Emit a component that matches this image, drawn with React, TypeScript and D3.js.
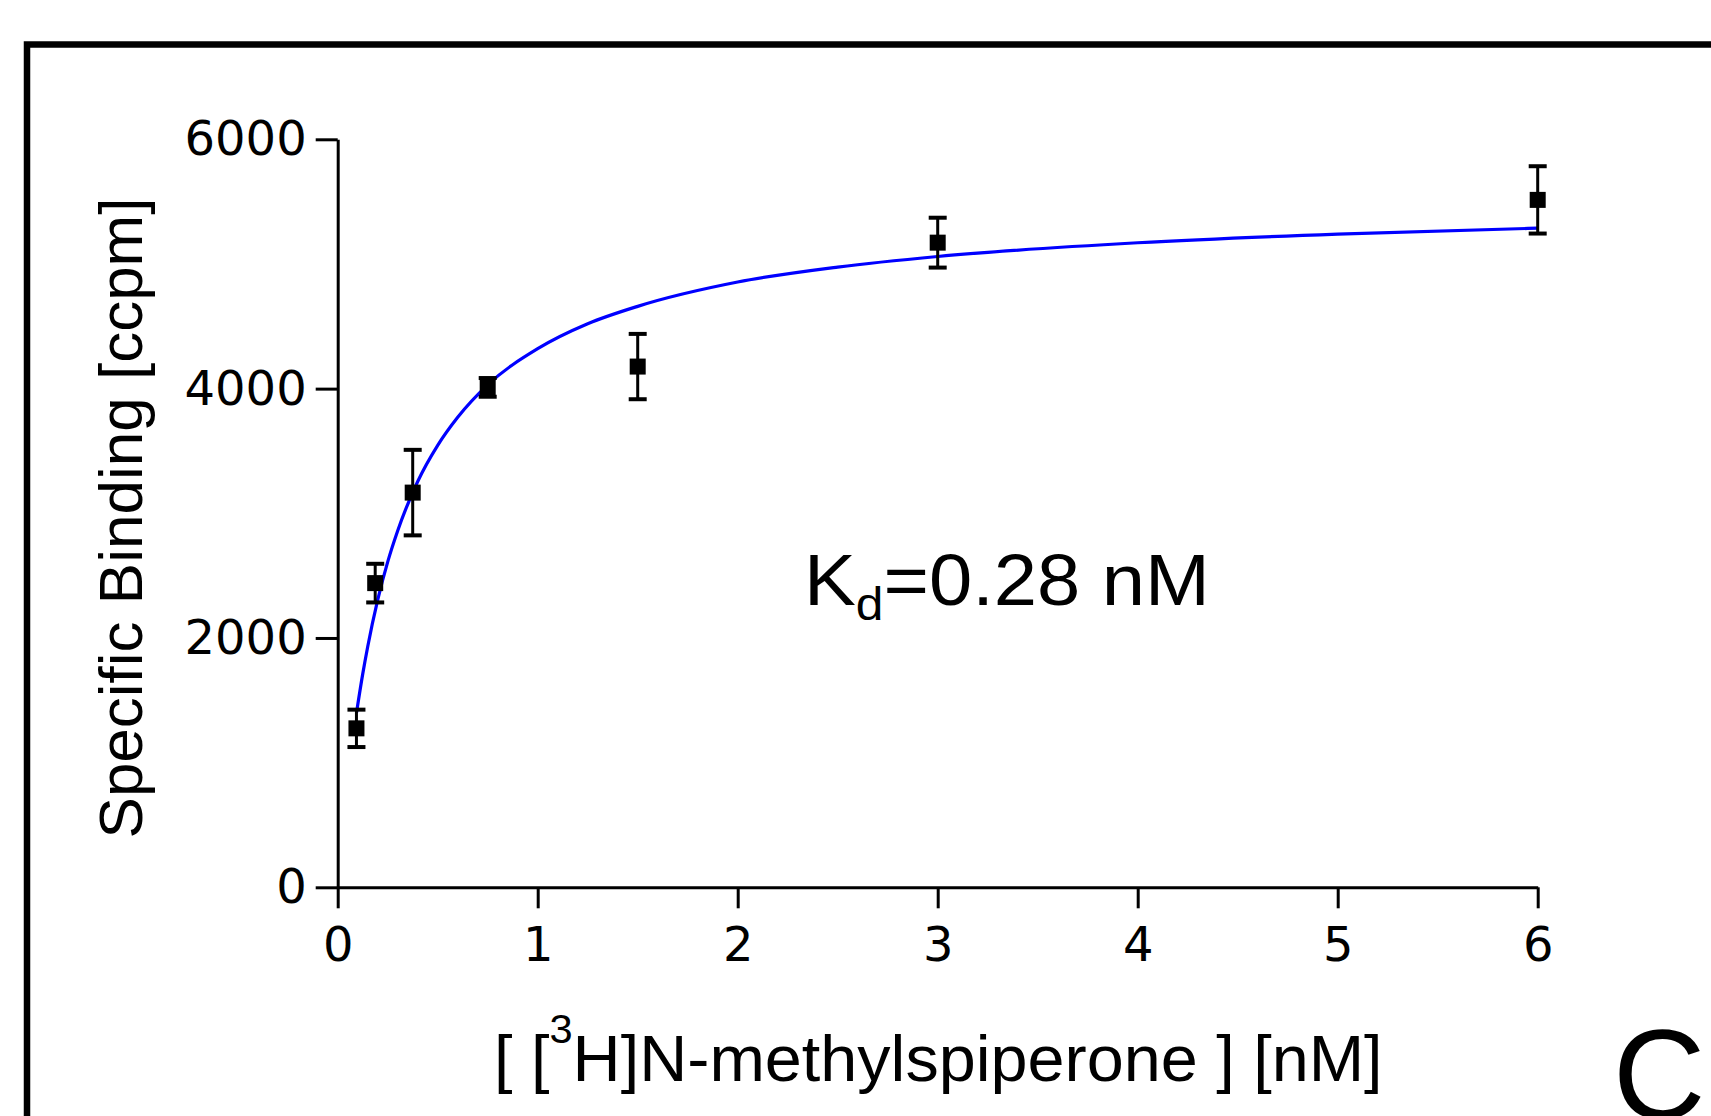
import React, { useRef, useEffect } from "react";
import * as d3 from "d3";

// measured points: concentration [nM], specific binding [ccpm], error (SEM)
const concentrations = [0.09375, 0.1875, 0.375, 0.75, 1.5, 3, 6];
const binding = [1275, 2440, 3166, 4010, 4177, 5171, 5514];
const errors = [150, 155, 343, 75, 262, 200, 270];

// fitted curve
const fitX = [0.094, 0.125, 0.15, 0.2, 0.25, 0.3, 0.4, 0.5, 0.6, 0.75, 1, 1.25, 1.5, 2, 2.5, 3, 4, 5, 6];
const fitY = [1400, 1710, 1930, 2305, 2610, 2860, 3255, 3545, 3770, 4030, 4320, 4520, 4660, 4855, 4975, 5060, 5170, 5240, 5287];

const xTicks = [0, 1, 2, 3, 4, 5, 6];
const yTicks = [0, 2000, 4000, 6000];

const W = 1711;
const H = 1116;

const App = () => {
  const svgRef = useRef<SVGSVGElement>(null);

  useEffect(() => {
    const svg = d3.select(svgRef.current);
    svg.selectAll("*").remove();

    const x = d3.scaleLinear().domain([0, 6]).range([337.7, 1537.7]);
    const y = d3.scaleLinear().domain([0, 6000]).range([887.3, 139.3]);

    svg.append("rect").attr("width", W).attr("height", H).attr("fill", "#fff");

    // panel frame (cut off right and bottom)
    svg
      .append("rect")
      .attr("x", 27)
      .attr("y", 44.5)
      .attr("width", 2000)
      .attr("height", 2000)
      .attr("fill", "none")
      .attr("stroke", "#000")
      .attr("stroke-width", 6.5);

    const tickFont = "'DejaVu Sans', sans-serif";

    const yAxis = svg
      .append("g")
      .attr("transform", `translate(${x(0)},0)`)
      .call(d3.axisLeft(y).tickValues(yTicks).tickSize(22).tickSizeOuter(0).tickPadding(9).tickFormat(d3.format("d")));
    const xAxis = svg
      .append("g")
      .attr("transform", `translate(0,${y(0)})`)
      .call(d3.axisBottom(x).tickValues(xTicks).tickSize(21).tickSizeOuter(0).tickPadding(19).tickFormat(d3.format("d")));

    [yAxis, xAxis].forEach((g) => {
      g.select(".domain").attr("stroke", "#000").attr("stroke-width", 3);
      g.selectAll(".tick line").attr("stroke", "#000").attr("stroke-width", 3);
      g.selectAll(".tick text").attr("fill", "#000").attr("font-family", tickFont).attr("font-size", 48);
    });

    // fit curve
    const line = d3
      .line<number>()
      .x((d) => x(d))
      .y((d, i) => y(fitY[i]))
      .curve(d3.curveMonotoneX);
    svg
      .append("path")
      .attr("d", line(fitX))
      .attr("fill", "none")
      .attr("stroke", "#0000ff")
      .attr("stroke-width", 3.2);

    // error bars + markers
    const pts = svg.append("g").selectAll("g").data(concentrations).join("g");
    pts
      .append("line")
      .attr("x1", (d) => x(d))
      .attr("x2", (d) => x(d))
      .attr("y1", (d, i) => y(binding[i] + errors[i]))
      .attr("y2", (d, i) => y(binding[i] - errors[i]))
      .attr("stroke", "#000")
      .attr("stroke-width", 3);
    [1, -1].forEach((s) => {
      pts
        .append("line")
        .attr("x1", (d) => x(d) - 9)
        .attr("x2", (d) => x(d) + 9)
        .attr("y1", (d, i) => y(binding[i] + s * errors[i]))
        .attr("y2", (d, i) => y(binding[i] + s * errors[i]))
        .attr("stroke", "#000")
        .attr("stroke-width", 4);
    });
    pts
      .append("rect")
      .attr("x", (d) => x(d) - 8)
      .attr("y", (d, i) => y(binding[i]) - 8)
      .attr("width", 16)
      .attr("height", 16)
      .attr("fill", "#000");

    const labelFont = "'Liberation Sans', Arial, sans-serif";

    svg
      .append("text")
      .attr("transform", "translate(142,518) rotate(-90)")
      .attr("text-anchor", "middle")
      .attr("font-family", labelFont)
      .attr("font-size", 62)
      .text("Specific Binding [ccpm]");

    // the original labels are slightly stretched horizontally
    const xt = svg
      .append("text")
      .attr("transform", "translate(494,1081) scale(1.04,1)")
      .attr("font-family", labelFont)
      .attr("font-size", 64);
    xt.append("tspan").text("[ [");
    xt.append("tspan").attr("dy", -38).attr("font-size", 40).text("3");
    xt.append("tspan").attr("dy", 38).text("H]N-methylspiperone ] [nM]");

    const kd = svg
      .append("text")
      .attr("transform", "translate(804,605) scale(1.08,1)")
      .attr("font-family", labelFont)
      .attr("font-size", 72);
    kd.append("tspan").text("K");
    kd.append("tspan").attr("dy", 15).attr("font-size", 46).text("d");
    kd.append("tspan").attr("dy", -15).text("=0.28 nM");

    svg
      .append("text")
      .attr("x", 1613)
      .attr("y", 1119)
      .attr("font-family", labelFont)
      .attr("font-size", 128)
      .text("C");
  }, []);

  return (
    <svg
      ref={svgRef}
      width={W}
      height={H}
      style={{ position: "absolute", left: 0, top: 0, display: "block" }}
    ></svg>
  );
};

export default App;
